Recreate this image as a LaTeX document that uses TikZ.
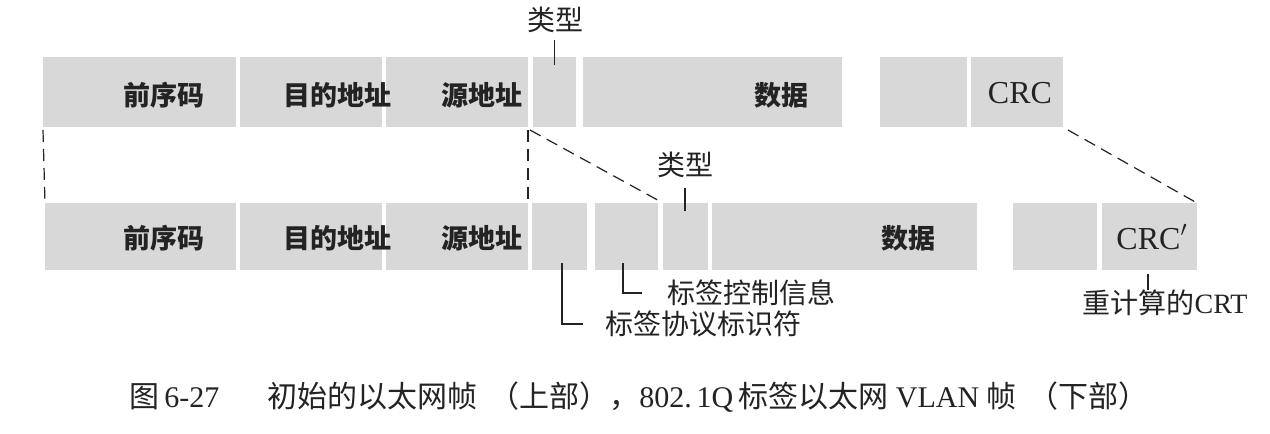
\documentclass[tikz,border=0pt]{standalone}
\usepackage{fontspec}
\setmainfont{Liberation Serif}
\newfontfamily\cjk{Noto Sans CJK SC}
\definecolor{boxgray}{RGB}{216,216,216}
\definecolor{ink}{RGB}{35,35,35}
\tikzset{
  frbox/.style={fill=boxgray, draw=none, inner sep=0pt, outer sep=0pt, anchor=north west},
  flabel/.style={inner sep=0pt, text=ink, font=\cjk\bfseries\fontsize{13.5pt}{16pt}\selectfont},
  crclabel/.style={inner sep=0pt, text=ink, font=\fontsize{16pt}{19pt}\selectfont},
  note/.style={inner sep=0pt, text=ink, font=\cjk\fontsize{14pt}{17pt}\selectfont},
  ptr/.style={draw=ink, line width=0.6pt},
  dashlink/.style={draw=ink, line width=0.6pt, dash pattern=on 6pt off 3.5pt},
  caption/.style={inner sep=0pt, text=ink, font=\fontsize{15pt}{18pt}\selectfont}
}
\newcommand{\frb}[5]{\node[frbox, minimum width={(#4-#2)*0.5pt}, minimum height={(#5-#3)*0.5pt}] (#1) at (#2,#3) {};}
\begin{document}
\begin{tikzpicture}[x=0.5pt, y=-0.5pt]
\useasboundingbox[fill=white] (0,0) rectangle (1270,434);
% top frame
\frb{t1}{43}{57}{236}{127}
\frb{t2}{240}{57}{382}{127}
\frb{t3}{386}{57}{528}{127}
\frb{t4}{533}{57}{576}{127}
\frb{t5}{583}{57}{842}{127}
\frb{t6}{880}{57}{967}{127}
\frb{t7}{971}{57}{1063}{127}
% bottom frame
\frb{b1}{45}{203}{236}{270}
\frb{b2}{240}{203}{382}{270}
\frb{b3}{386}{203}{528}{270}
\frb{b4}{532}{203}{587}{270}
\frb{b5}{595}{203}{658}{270}
\frb{b6}{663}{203}{708}{270}
\frb{b7}{712}{203}{977}{270}
\frb{b8}{1013}{203}{1097}{270}
\frb{b9}{1102}{203}{1197}{270}
% top labels
\node[flabel] (lt1) at (164,95) {前序码};
\node[flabel] (lt2) at (337,95) {目的地址};
\node[flabel] (lt3) at (482,95) {源地址};
\node[flabel] (lt5) at (781,95) {数据};
\node[crclabel] (lt7) at (1020,93) {CRC};
% bottom labels
\node[flabel] (lb1) at (164,238) {前序码};
\node[flabel] (lb2) at (337,238) {目的地址};
\node[flabel] (lb3) at (482,238) {源地址};
\node[flabel] (lb7) at (908,238) {数据};
\node[crclabel] (lb9) at (1152,237) {CRC$'$};
% annotations
\node[note] (type1) at (555,20) {类型};
\draw[ptr] (type1.south -| t4.north) ++(0,7) coordinate (type1a) -- (type1a |- t4.north) -- ++(0,8);
\node[note] (type2) at (685,165) {类型};
\draw[ptr] ([yshift=-5pt]type2.south) -- ([yshift=-4pt]type2.south |- b6.north);
\node[note] (tci) [anchor=west] at (667,293) {标签控制信息};
\coordinate (tcitop) at (623,263);
\draw[ptr] (tcitop) -- (tcitop |- tci.west) -- ++(19,0);
\node[note] (tpid) [anchor=west] at (605,324) {标签协议标识符};
\coordinate (tpidtop) at (562,263);
\draw[ptr] (tpidtop) -- (tpidtop |- tpid.west) -- ++(21,0);
\node[note] (crt) at (1165,303) {重计算的{\rmfamily CRT}};
\draw[ptr] (crt.north -| lb9.south) ++(-4,0) coordinate (crta) -- ++(0,-16);
% dashed links
\draw[dashlink] (t1.south west) ++(0,3) -- (b1.north west);
\draw[dashlink] (t3.south east) ++(0,3) -- (b3.north east);
\draw[dashlink] ([xshift=1pt,yshift=-1.5pt]t3.south east) -- (b6.north west);
\draw[dashlink] ([xshift=2.5pt,yshift=-1.5pt]t7.south east) -- (b9.north east);
% caption
\node[caption] (cap) at (639,397) {{\cjk 图}\,6-27\hspace{1.6em}{\cjk 初始的以太网帧\hspace{0.4em}（上部），}802.\,1Q\,{\cjk 标签以太网}\ VLAN\ {\cjk 帧\hspace{0.4em}（下部）}};
\end{tikzpicture}
\end{document}
